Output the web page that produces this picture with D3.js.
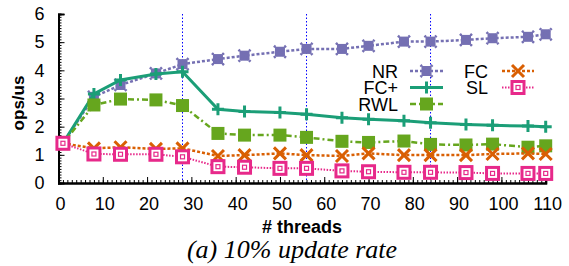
<!DOCTYPE html>
<html>
<head>
<meta charset="utf-8">
<script src="https://cdn.jsdelivr.net/npm/d3@7"></script>
<style>
  body { margin: 0; background: #fff; }
  svg text { font-family: "Liberation Sans", Arial, sans-serif; }
</style>
</head>
<body>
<div id="chart"></div>
<script>
var svgWidth = 569;
var svgHeight = 266;

// data
var threads = [1, 8, 14, 22, 28, 36, 42, 50, 56, 64, 70, 78, 84, 92, 98, 106, 110];
var nr   = [1.41, 3.06, 3.48, 3.89, 4.22, 4.40, 4.52, 4.66, 4.76, 4.76, 4.87, 5.02, 5.02, 5.08, 5.14, 5.19, 5.28];
var fcp  = [1.41, 3.16, 3.66, 3.87, 3.95, 2.62, 2.54, 2.50, 2.44, 2.32, 2.26, 2.21, 2.14, 2.08, 2.05, 2.02, 2.00];
var rwl  = [1.41, 2.77, 2.98, 2.95, 2.75, 1.76, 1.70, 1.70, 1.62, 1.48, 1.44, 1.49, 1.37, 1.35, 1.38, 1.27, 1.32];
var fc   = [1.41, 1.23, 1.27, 1.21, 1.23, 0.96, 0.99, 1.05, 0.99, 0.96, 1.05, 0.99, 0.99, 0.99, 1.03, 1.05, 1.03];
var sl   = [1.41, 1.03, 1.02, 1.02, 0.93, 0.58, 0.56, 0.52, 0.52, 0.43, 0.40, 0.38, 0.38, 0.37, 0.34, 0.34, 0.34];
var socketLines = [28, 56, 84];
var xTicks = [0, 10, 20, 30, 40, 50, 60, 70, 80, 90, 100, 110];
var yTicks = [0, 1, 2, 3, 4, 5, 6];

var series = [
  {name: "NR",  values: nr,  color: "#7570b3", dash: "3,2", width: 2.5, marker: "blob"},
  {name: "FC+", values: fcp, color: "#1b9e77", dash: null,  width: 3,   marker: "plus"},
  {name: "RWL", values: rwl, color: "#66a61e", dash: "6,3,2,3", width: 2.5, marker: "square"},
  {name: "FC",  values: fc,  color: "#d95f02", dash: "3,2", width: 2.5, marker: "cross"},
  {name: "SL",  values: sl,  color: "#e7298a", dash: "1.5,1.5", width: 2, marker: "box"}
];

var svg = d3.select("#chart").append("svg")
  .attr("width", svgWidth)
  .attr("height", svgHeight);

var x = d3.scaleLinear().domain([0, 110]).range([58.5, 545.7]);
var y = d3.scaleLinear().domain([0, 6]).range([183, 14]);

// vertical dotted socket boundaries
svg.append("g").selectAll("line")
  .data(socketLines)
  .enter().append("line")
  .attr("x1", function(d) { return x(d); })
  .attr("x2", function(d) { return x(d); })
  .attr("y1", y(6))
  .attr("y2", y(0))
  .attr("stroke", "#0000ff")
  .attr("stroke-width", 1)
  .attr("stroke-dasharray", "1.5,2");

// axes with inward ticks
var minorX = d3.range(0, 111, 1);
var minorY = d3.range(0, 6.01, 0.1);

var xAxisMinor = d3.axisBottom(x).tickValues(minorX).tickSize(-3).tickFormat("");
var xAxis = d3.axisBottom(x).tickValues(xTicks).tickSize(-6).tickPadding(14.5).tickFormat(d3.format("d"));
var yAxisMinor = d3.axisLeft(y).tickValues(minorY).tickSize(-3).tickFormat("");
var yAxis = d3.axisLeft(y).tickValues(yTicks).tickSize(-6).tickPadding(14).tickFormat(d3.format("d"));

function styleAxis(g) {
  g.select(".domain").attr("stroke", "#000").attr("stroke-width", 2);
  g.selectAll(".tick line").attr("stroke", "#000").attr("stroke-width", 1);
  g.selectAll("text").style("font-size", "18px").attr("fill", "#000");
}

svg.append("g").attr("transform", "translate(0," + y(0) + ")").call(xAxisMinor).call(styleAxis);
svg.append("g").attr("transform", "translate(0," + y(0) + ")").call(xAxis).call(styleAxis)
  .selectAll("text").attr("dx", 1.5);
svg.append("g").attr("transform", "translate(" + x(0) + ",0)").call(yAxisMinor).call(styleAxis);
svg.append("g").attr("transform", "translate(" + x(0) + ",0)").call(yAxis).call(styleAxis);

// markers
function drawMarker(g, type, color) {
  if (type === "blob") {
    g.append("rect").attr("x", -5).attr("y", -5).attr("width", 10).attr("height", 10).attr("fill", color);
    g.append("path").attr("d", "M-6,-6L6,6M-6,6L6,-6").attr("stroke", color).attr("stroke-width", 2.5)
      .attr("stroke-dasharray", "2,1");
  } else if (type === "plus") {
    g.append("path").attr("d", "M-6,0L6,0M0,-6L0,6").attr("stroke", color).attr("stroke-width", 3);
  } else if (type === "square") {
    g.append("rect").attr("x", -6.5).attr("y", -6.5).attr("width", 13).attr("height", 13).attr("fill", color);
  } else if (type === "cross") {
    g.append("path").attr("d", "M-6,-6L6,6M-6,6L6,-6").attr("stroke", color).attr("stroke-width", 3);
  } else if (type === "box") {
    g.append("rect").attr("x", -6).attr("y", -6).attr("width", 12).attr("height", 12)
      .attr("fill", "#fff").attr("stroke", color).attr("stroke-width", 3);
    g.append("rect").attr("x", -2).attr("y", -2).attr("width", 4).attr("height", 4)
      .attr("fill", "none").attr("stroke", color).attr("stroke-width", 1.2);
  }
}

var line = d3.line()
  .x(function(d) { return x(d[0]); })
  .y(function(d) { return y(d[1]); });

series.forEach(function(s) {
  var pts = threads.map(function(t, i) { return [t, s.values[i]]; });
  var g = svg.append("g");
  g.append("path")
    .attr("d", line(pts))
    .attr("fill", "none")
    .attr("stroke", s.color)
    .attr("stroke-width", s.width)
    .attr("stroke-dasharray", s.dash);
  g.selectAll("g.pt")
    .data(pts)
    .enter().append("g")
    .attr("class", "pt")
    .attr("transform", function(d) { return "translate(" + x(d[0]) + "," + y(d[1]) + ")"; })
    .each(function() { drawMarker(d3.select(this), s.marker, s.color); });
});

// legend: two columns, filled top to bottom
var legendCols = [{textX: 398, lineX1: 410, lineX2: 443}, {textX: 488, lineX1: 502, lineX2: 534}];
var legendRows = [71, 87.5, 104];
series.forEach(function(s, i) {
  var col = legendCols[i < 3 ? 0 : 1];
  var ry = legendRows[i < 3 ? i : i - 3];
  var g = svg.append("g");
  g.append("text")
    .attr("x", col.textX)
    .attr("y", ry + 6.5)
    .attr("text-anchor", "end")
    .style("font-size", "18px")
    .text(s.name);
  g.append("line")
    .attr("x1", col.lineX1).attr("x2", col.lineX2)
    .attr("y1", ry).attr("y2", ry)
    .attr("stroke", s.color)
    .attr("stroke-width", s.width)
    .attr("stroke-dasharray", s.dash);
  var m = g.append("g").attr("transform", "translate(" + ((col.lineX1 + col.lineX2) / 2) + "," + ry + ")");
  drawMarker(m, s.marker, s.color);
});

// axis labels
svg.append("text")
  .attr("transform", "translate(24,103) rotate(-90)")
  .attr("text-anchor", "middle")
  .style("font-size", "17px")
  .style("font-weight", "bold")
  .text("ops/us");

svg.append("text")
  .attr("x", 302)
  .attr("y", 233)
  .attr("text-anchor", "middle")
  .style("font-size", "18px")
  .style("font-weight", "bold")
  .text("# threads");

svg.append("text")
  .attr("x", 292)
  .attr("y", 258)
  .attr("text-anchor", "middle")
  .style("font-family", "'Liberation Serif', 'Times New Roman', serif")
  .style("font-style", "italic")
  .style("font-size", "26px")
  .text("(a) 10% update rate");
</script>
</body>
</html>
